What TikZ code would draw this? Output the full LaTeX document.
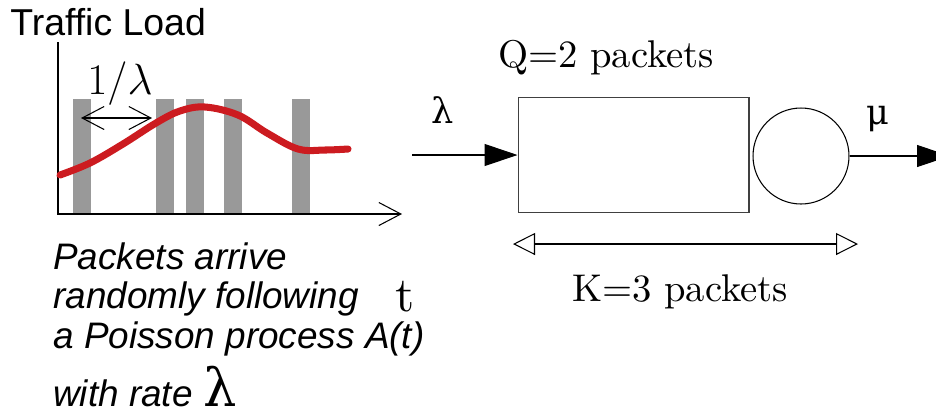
\documentclass[tikz,border=0pt]{standalone}
\usepackage{fontspec}
\newfontfamily\labelsans{Liberation Sans}
\newfontfamily\labelserif{lmroman10-regular.otf}
\newfontfamily\greekserif{DejaVu Serif}
\usepackage{tikz}
\usetikzlibrary{arrows.meta}

\definecolor{loadred}{RGB}{204,27,32}
\definecolor{bargray}{RGB}{153,153,153}

\tikzset{
  bar/.style={fill=bargray, draw=none},
  load/.style={draw=loadred, line width=4pt, line cap=round},
  thinline/.style={line width=0.6pt},
  barb/.tip={Straight Barb[length=0.44cm, width=0.46cm]},
  sanslabel/.style={font=\labelsans\fontsize{21.3}{25}\selectfont, inner sep=0pt},
  desclabel/.style={font=\labelsans\itshape\fontsize{21}{25}\selectfont, inner sep=0pt, anchor=base west},
  seriflabel/.style={font=\labelserif\fontsize{22}{26}\selectfont, inner sep=0pt},
  greeklabel/.style={font=\greekserif\fontsize{20}{24}\selectfont, inner sep=0pt},
  mathlabel/.style={font=\fontsize{23}{27}\selectfont, inner sep=0pt},
  queuebox/.style={draw=black!75, thinline, minimum width=4.62cm, minimum height=2.3cm},
  server/.style={draw, circle, thinline, minimum size=1.92cm, inner sep=0pt},
  flow/.style={thinline, -{Triangle[length=0.66cm, width=0.44cm]}},
}

\begin{document}
\begin{tikzpicture}[x=0.02cm, y=-0.02cm]
	\useasboundingbox (0,0) rectangle (936,417);

	% traffic load plot
	\node[sanslabel, anchor=base west] (title) at (10,35) {Traffic Load};

	\foreach \x in {73,156,186,224,292}
		\fill[bar] (\x,99) rectangle ++(18,115);

	\draw[thinline, -barb] (58,42) |- (402,214);

	\draw[load] plot[smooth, tension=0.6] coordinates
		{(60,175) (90,163) (123,144) (156,123) (180,111) (205,107)
		 (238,115) (267,133) (298,149) (325,150) (348,149)};

	\coordinate (gapL) at (81,118);
	\coordinate (gapR) at (152,118);
	\draw[thinline, barb-barb] (gapL) -- (gapR);
	\node[mathlabel] (gap) at (120,84) {$1/\lambda$};

	\node[seriflabel, font=\labelserif\fontsize{28}{30}\selectfont, anchor=base] (time) at (405,311) {t};

	\node[desclabel] (desc1) at (53,269) {Packets arrive};
	\node[desclabel] (desc2) at (53,308) {randomly following};
	\node[desclabel] (desc3) at (53,348) {a Poisson process A(t)};
	\node[desclabel] (desc4) at (53,406) {with rate {\greekserif\upshape\fontsize{30}{30}\selectfont λ}};

	% queue and server
	\node[queuebox] (queue) at (633.5,155) {};
	\node[server] (server) at (801,156) {};

	\coordinate (in) at (412,155);
	\coordinate (out) at (950,156);
	\draw[flow] (in) -- (queue.west);
	\draw[flow] (server.east) -- (out);

	\node[greeklabel] (rate) at (443,110) {λ};
	\node[greeklabel] (srate) at (878,119) {μ};

	\node[seriflabel, anchor=base] (qlabel) at (606,67) {Q=2 packets};

	\coordinate (kL) at (513,244);
	\coordinate (kR) at (858,244);
	\draw[thinline, {Triangle[open, length=0.44cm, width=0.44cm]}-{Triangle[open, length=0.44cm, width=0.44cm]}] (kL) -- (kR);
	\node[seriflabel, anchor=base] (klabel) at (680,301) {K=3 packets};

\end{tikzpicture}
\end{document}
